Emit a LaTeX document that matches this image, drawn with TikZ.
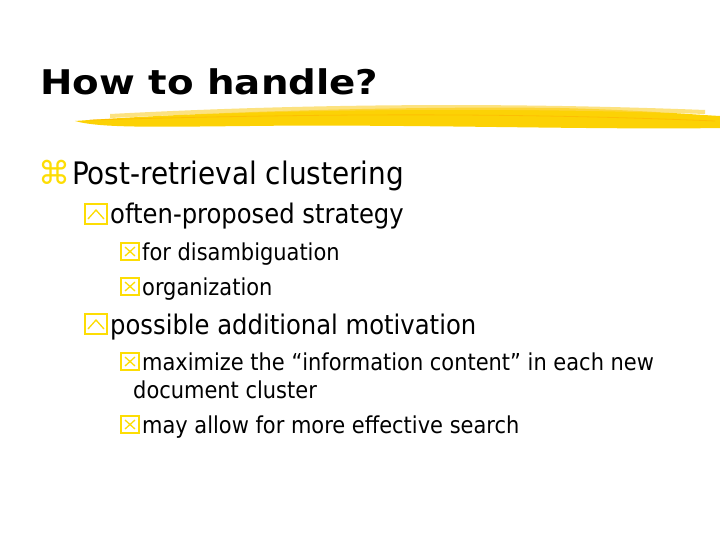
\documentclass[tikz,border=0pt]{standalone}
\usepackage{fontspec}
\setmainfont{DejaVu Sans}
\newfontfamily\condf{DejaVu Sans Condensed}
\begin{document}
\begin{tikzpicture}[x=1pt,y=-1pt,
  txt/.style={anchor=base west,inner sep=0pt,text=black},
  bul/.style={draw=yellow!80!orange,line width=1.3pt}]
\useasboundingbox (0,0) rectangle (720,540);
\fill[white] (0,0) rectangle (720,540);
% brush stroke
\fill[yellow!70!orange] (75,121) .. controls (200,112) and (400,106) .. (560,108) .. controls (640,110) and (700,115) .. (720,116) -- (720,128) .. controls (600,130) and (400,124) .. (250,126) .. controls (150,127) and (100,128) .. (75,121) -- cycle;
\fill[yellow!60!orange!70,opacity=0.7] (110,114) .. controls (300,104) and (500,102) .. (705,110) -- (705,114) .. controls (500,107) and (300,109) .. (110,118) -- cycle;
\draw[orange!60!yellow,line width=0.8pt,opacity=0.6] (90,120) .. controls (300,114) and (500,112) .. (715,121);
\node[txt,xscale=1.14,font=\bfseries\fontsize{34}{40}\selectfont] (title) at (40,95) {How to handle?};
% level 1
\node[txt,font=\condf\fontsize{31}{36}\selectfont] (l1) at (72,185) {Post-retrieval clustering};
\node[anchor=base east,inner sep=1pt,text=yellow!80!orange,font=\fontsize{32}{36}\selectfont] (b1) at (l1.base west) {⌘};
% level 2
\node[txt,font=\condf\fontsize{27}{30}\selectfont] (l2a) at (110,224) {often-proposed strategy};
\node[txt,font=\condf\fontsize{27}{30}\selectfont] (l2b) at (110,334) {possible additional motivation};
% level 3
\node[txt,font=\condf\fontsize{23.3}{26}\selectfont] (l3a) at (142,260) {for disambiguation};
\node[txt,font=\condf\fontsize{23.3}{26}\selectfont] (l3b) at (142,295) {organization};
\node[txt,font=\condf\fontsize{23.3}{26}\selectfont] (l3c) at (142,370) {maximize the “information content” in each new};
\node[txt,font=\condf\fontsize{23.3}{26}\selectfont] (l3d) at (133,398) {document cluster};
\node[txt,font=\condf\fontsize{23.3}{26}\selectfont] (l3e) at (142,433) {may allow for more effective search};
% caret-box bullets
\foreach \y in {224,334}{
  \draw[bul] (85,\y-20) rectangle (107,\y);
  \draw[bul] (88,\y-5) -- (96,\y-14) -- (104,\y-5);
}
% x-box bullets
\foreach \y in {260,295,370,433}{
  \draw[bul] (121,\y-17) rectangle (139,\y);
  \draw[bul] (125,\y-13) -- (135,\y-4) (125,\y-4) -- (135,\y-13);
}
\end{tikzpicture}
\end{document}
